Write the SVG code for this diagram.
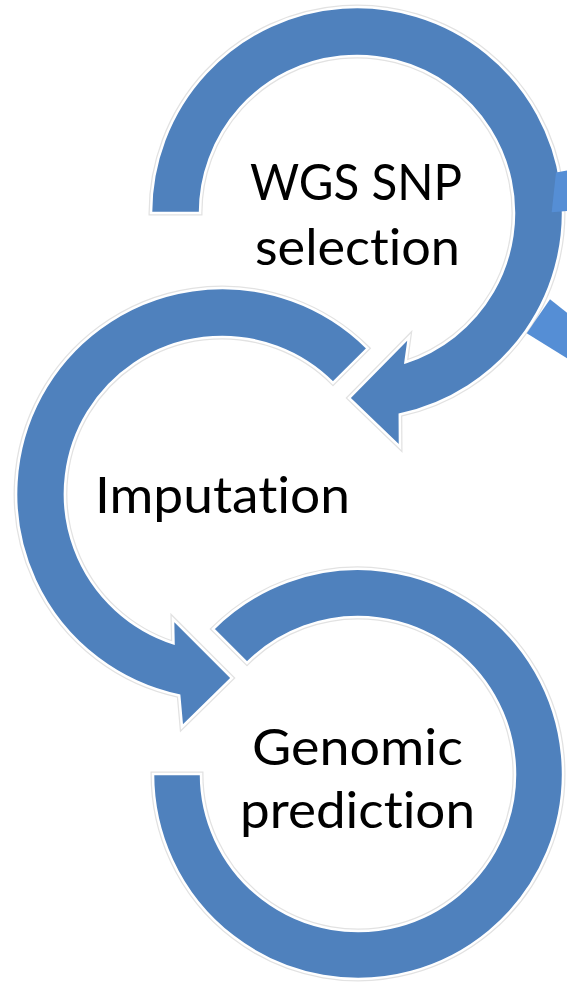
<svg xmlns="http://www.w3.org/2000/svg" width="567" height="982" viewBox="0 0 567 982">
<style>
.ring{fill:#4f81bd;stroke:#ffffff;stroke-width:2.5;stroke-linejoin:miter}
.halo{fill:none;stroke:#e2e2e2;stroke-width:5;stroke-linejoin:miter}
.frag{fill:#558ed5}
.lbl{font-family:Lato,"Open Sans","Liberation Sans",sans-serif;font-size:51px;fill:#000;font-variant-ligatures:none;font-feature-settings:"liga" 0,"clig" 0}
</style>
<rect width="567" height="982" fill="#ffffff"/>
<defs>
<path id="p1" d="M151,213 A206,206 0 1 1 399.8,414.5 L400,447 L349,398 L409,337 L405.5,362.3 A157,157 0 1 0 200,213 Z"/>
<path id="p2" d="M367.7,348.3 A206,206 0 1 0 179.2,695.5 L182,727 L232,678 L173,619 L173.5,643.3 A157,157 0 1 1 333,383 Z"/>
<path id="p3" d="M213,629 A205,205 0 1 1 153,774 L201,774 A157,157 0 1 0 247,663 Z"/>
</defs>
<g id="connectors">
<use href="#p3" class="halo"/>
<use href="#p2" class="halo"/>
<use href="#p1" class="halo"/>
</g>
<g id="node-genomic-prediction">
<use href="#p3" class="ring"/>
<text class="lbl" x="252" y="765" textLength="211" lengthAdjust="spacingAndGlyphs">Genomic</text>
<text class="lbl" x="240" y="828" textLength="235" lengthAdjust="spacingAndGlyphs">prediction</text>
</g>
<g id="node-imputation">
<use href="#p2" class="ring"/>
<text class="lbl" x="95" y="513" textLength="255" lengthAdjust="spacingAndGlyphs">Imputation</text>
</g>
<g id="node-wgs-snp-selection">
<use href="#p1" class="ring"/>
<text class="lbl" x="250" y="200" textLength="212" lengthAdjust="spacingAndGlyphs">WGS SNP</text>
<text class="lbl" x="255" y="265" textLength="205" lengthAdjust="spacingAndGlyphs">selection</text>
</g>
<g id="fragments">
<polygon class="frag" points="556,172.5 567,170.5 567,211 551.7,212.3"/>
<polygon class="frag" points="550,299.3 567,312.7 567,358.3 526.7,333.3"/>
</g>
</svg>
